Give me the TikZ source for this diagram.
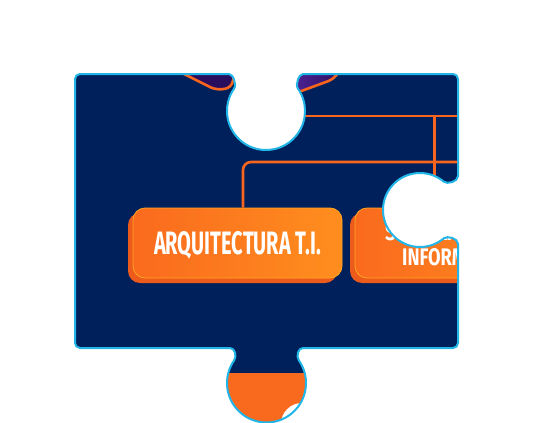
\documentclass[tikz,border=0pt]{standalone}
\usepackage{fontspec}
\newfontfamily\boxfont{Fira Sans}
\definecolor{navy}{HTML}{00205B}
\definecolor{pzcyan}{HTML}{22B5E8}
\definecolor{wireorange}{HTML}{F7651F}
\definecolor{boxorangeA}{HTML}{FA6A1E}
\definecolor{boxorangeB}{HTML}{FF8E1E}
\definecolor{boxshadow}{HTML}{EC5A1C}
\definecolor{boxedge}{HTML}{FFA81F}
\definecolor{purpleA}{HTML}{2A0E5E}
\definecolor{purpleB}{HTML}{4E2394}
\newcommand{\pzpath}{(80,74) -- (229,74) .. controls (233,74) and (237,84.5) .. (234.05,88.63)
  arc[start angle=215, end angle=-35, radius=39]
  .. controls (295,84.5) and (299,74) .. (303,74) -- (453,74)
  arc[start angle=-90, end angle=0, radius=5] -- (458,176)
  .. controls (458,182) and (447,184.5) .. (443.78,181.66)
  arc[start angle=-50, end angle=-310, radius=37]
  .. controls (447,235.5) and (458,238) .. (458,244) -- (458,343)
  arc[start angle=0, end angle=90, radius=5] -- (303,348)
  .. controls (298,348) and (296,356.2) .. (298.86,360.34)
  arc[start angle=-35, end angle=215, radius=39.5]
  .. controls (237,356.2) and (235,348) .. (230,348) -- (80,348)
  arc[start angle=90, end angle=180, radius=5] -- (75,79)
  arc[start angle=180, end angle=270, radius=5] -- cycle}
\tikzset{
  wire/.style={draw=wireorange, line width=2.6pt, rounded corners=8pt},
  facebox/.style={rectangle, rounded corners=12pt, minimum width=209pt, minimum height=70pt,
    left color=boxorangeA, right color=boxorangeB, draw=boxedge, line width=0.8pt,
    inner sep=0pt, text=white, text depth=0pt},
  shadowbox/.style={rectangle, rounded corners=12pt, minimum width=209pt, minimum height=70pt,
    fill=boxshadow, inner sep=0pt},
  boxtext/.style={inner sep=0pt, text=white, font=\boxfont\bfseries},
  puzzleedge/.style={draw=pzcyan, line width=2pt}
}
\begin{document}
\begin{tikzpicture}[x=1pt, y=-1pt]
\useasboundingbox (0,0) rectangle (533,423);
\begin{scope}
  \clip \pzpath;
  \fill[navy] (60,60) rectangle (480,430);
  % purple shapes at the top
  \path[fill=purpleA, draw=wireorange, line width=2.6pt, rounded corners=6pt]
    (168,66) -- (216,90) -- (231,88) -- (238,62) -- cycle;
  \path[left color=purpleB, right color=purpleA, draw=wireorange, line width=2.6pt, rounded corners=6pt]
    (296,93) -- (334,79) -- (345,62) -- (292,62) -- cycle;
  % connectors
  \coordinate (h1a) at (300,116);
  \coordinate (h1b) at (475,116);
  \coordinate (v2) at (434.5,116);
  \coordinate (v2b) at (434.5,205);
  \coordinate (c1) at (243,162);
  \coordinate (c1b) at (475,162);
  \draw[wire] (h1a) -- (h1b);
  \draw[wire] (v2) -- (v2b);
  % bottom elements inside the knob
  \fill[boxorangeA] (220,373) rectangle (320,430);
  \fill[white] (302,424) circle[radius=21];
  % boxes
  \node[shadowbox] (arqsh) at (232.5,248) {};
  \node[facebox] (arq) at (237.5,243)
    {\resizebox{167pt}{23pt}{\boxfont\bfseries ARQUITECTURA T.I.}};
  \draw[wire] (arq.north -| c1) -- (c1) -- (c1b);
  \node[shadowbox] (sissh) at (454.5,248) {};
  \node[facebox] (sis) at (459.5,243) {};
  \node[boxtext, anchor=base west] (sis1) at (385,240)
    {\resizebox{112pt}{17pt}{SISTEMAS DE}};
  \node[boxtext, anchor=base west] (sis2) at (402,265)
    {\resizebox{115pt}{17pt}{INFORMACI\smash{Ó}N}};
\end{scope}
\draw[puzzleedge] \pzpath;
\end{tikzpicture}
\end{document}
